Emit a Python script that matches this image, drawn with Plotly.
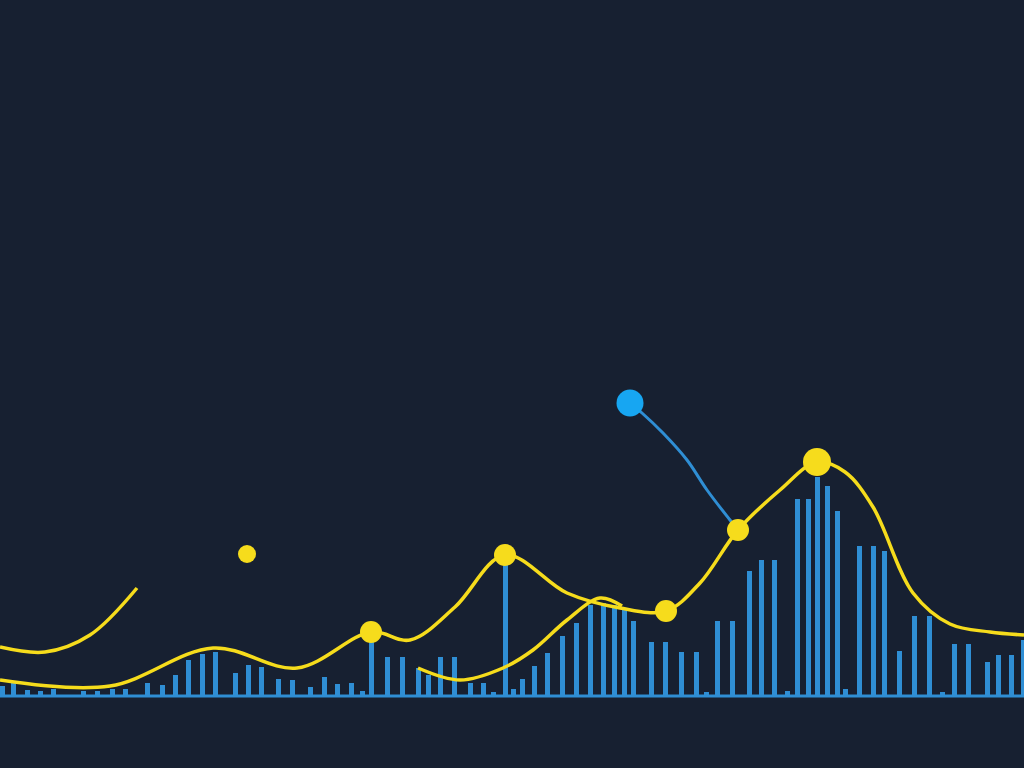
import plotly.graph_objects as go

# ---- data (x position, height above baseline) ----
bar_x = [2, 13, 27, 40, 53, 83, 97, 112, 125, 147, 162, 175, 188, 202, 215, 235, 248, 261,
         278, 292, 310, 324, 337, 351, 362, 371, 387, 402, 418, 428, 440, 454, 470, 483, 493,
         505, 513, 522, 534, 547, 562, 576, 590, 603, 614, 624, 633, 651, 665, 681, 696, 706,
         717, 732, 749, 761, 774, 787, 797, 808, 817, 827, 837, 845, 859, 873, 884, 899, 914,
         929, 942, 954, 968, 987, 998, 1011, 1023]
bar_h = [10, 13, 6, 5, 7, 5, 5, 7, 7, 13, 11, 21, 36, 42, 44, 23, 31, 29,
         17, 16, 9, 19, 12, 13, 5, 56, 39, 39, 28, 21, 39, 39, 13, 13, 4,
         136, 7, 17, 30, 43, 60, 73, 91, 93, 91, 86, 75, 54, 54, 44, 44, 4,
         75, 75, 125, 136, 136, 5, 197, 197, 219, 210, 185, 7, 150, 150, 145, 45, 80,
         80, 4, 52, 52, 34, 41, 41, 56]

curve_a_x = [0, 45, 90, 137]
curve_a_y = [49, 44, 61, 108]

curve_b_x = [0, 110, 213, 297, 371, 410, 455, 505, 567, 620, 666, 700, 738, 780, 817,
             845, 873, 913, 950, 990, 1024]
curve_b_y = [16, 10, 48, 28, 64, 56, 89, 141, 103, 88, 85, 113, 166, 206, 234,
             224, 189, 103, 72, 64, 61]

curve_c_x = [418, 460, 503, 533, 567, 600, 622]
curve_c_y = [28, 16, 28, 46, 76, 98, 90]

blue_x = [630, 642, 663, 687, 707, 730, 738]
blue_y = [293, 283, 263, 236, 206, 176, 166]

dot_x = [371, 505, 666, 738]
dot_y = [64, 141, 85, 166]
big_dot_x = [817]
big_dot_y = [234]
lone_dot_x = [247]
lone_dot_y = [142]
blue_dot_x = [630]
blue_dot_y = [293]

BG = "#172031"
YEL = "#f6dc1c"
BAR = "#2f8ed4"
BLUE_DOT = "#17a6f2"

fig = go.Figure()
fig.add_trace(go.Bar(x=bar_x, y=bar_h, width=5, marker=dict(color=BAR, line=dict(width=0))))

for xs, ys in [(curve_a_x, curve_a_y), (curve_b_x, curve_b_y), (curve_c_x, curve_c_y)]:
    fig.add_trace(go.Scatter(x=xs, y=ys, mode="lines",
                             line=dict(color=YEL, width=3.5, shape="spline", smoothing=1.0)))

fig.add_trace(go.Scatter(x=blue_x, y=blue_y, mode="lines",
                         line=dict(color=BAR, width=3, shape="spline", smoothing=1.0)))

fig.add_trace(go.Scatter(x=dot_x, y=dot_y, mode="markers",
                         marker=dict(color=YEL, size=22, line=dict(width=0))))
fig.add_trace(go.Scatter(x=big_dot_x, y=big_dot_y, mode="markers",
                         marker=dict(color=YEL, size=28, line=dict(width=0))))
fig.add_trace(go.Scatter(x=lone_dot_x, y=lone_dot_y, mode="markers",
                         marker=dict(color=YEL, size=18, line=dict(width=0))))
fig.add_trace(go.Scatter(x=blue_dot_x, y=blue_dot_y, mode="markers",
                         marker=dict(color=BLUE_DOT, size=27, line=dict(width=0))))

fig.add_shape(type="line", xref="paper", x0=0, x1=1, yref="y", y0=0, y1=0,
              line=dict(color=BAR, width=3))

fig.update_layout(
    width=1024, height=768,
    margin=dict(l=0, r=0, t=0, b=0),
    paper_bgcolor=BG, plot_bgcolor=BG,
    showlegend=False, bargap=0,
    xaxis=dict(range=[0, 1024], visible=False, fixedrange=True),
    yaxis=dict(range=[-72, 696], visible=False, fixedrange=True),
)

fig.write_html("out.html", config={"displayModeBar": False},
               post_script="document.body.style.margin='0';document.body.style.background='%s';" % BG)
